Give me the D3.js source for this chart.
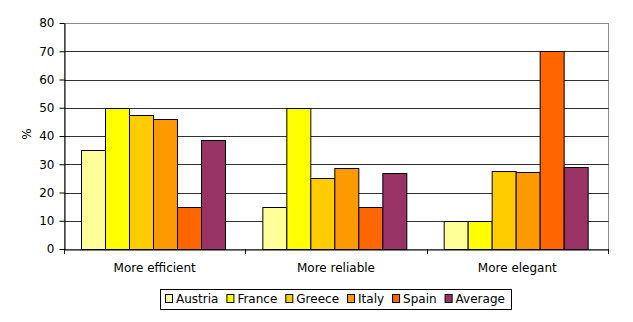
<!DOCTYPE html>
<html>
<head>
<meta charset="utf-8">
<script src="https://cdn.jsdelivr.net/npm/d3@7"></script>
<style>
  html, body { margin: 0; padding: 0; background: #fff; }
  svg { display: block; font-family: "DejaVu Sans", Verdana, sans-serif; }
</style>
</head>
<body>
<svg id="chart" width="633" height="322"></svg>
<script>
// Survey answers per category, in percent
const categories = ["More efficient", "More reliable", "More elegant"];
const seriesNames = ["Austria", "France", "Greece", "Italy", "Spain", "Average"];
const austria = [35, 15, 10];
const france  = [50, 50, 10];
const greece  = [47.5, 25, 27.5];
const italy   = [46, 28.5, 27.2];
const spain   = [15, 15, 70];
const average = [38.7, 26.8, 28.9];
const yTicks = [0, 10, 20, 30, 40, 50, 60, 70, 80];
const seriesColors = ["#FFFF99", "#FFFF00", "#FFCC00", "#FF9900", "#FF6600", "#993366"];

const seriesValues = [austria, france, greece, italy, spain, average];

const svg = d3.select("#chart");
const plot = { left: 64, right: 608, top: 23, bottom: 249 };

const x0 = d3.scaleBand().domain(categories).range([plot.left, plot.right]).padding(0);
const x1 = d3.scaleBand().domain(seriesNames).range([0, x0.bandwidth()])
  .paddingInner(0).paddingOuter(0.78).align(0.46);
const y = d3.scaleLinear().domain([0, 80]).range([plot.bottom, plot.top]);
const color = d3.scaleOrdinal().domain(seriesNames).range(seriesColors);

// plot area frame
svg.append("rect")
  .attr("x", plot.left + 0.5).attr("y", plot.top + 0.5)
  .attr("width", plot.right - plot.left).attr("height", plot.bottom - plot.top)
  .attr("fill", "none").attr("stroke", "#8c8c8c");

// horizontal gridlines
svg.append("g")
  .selectAll("line")
  .data(yTicks.filter(t => t > 0 && t < 80))
  .join("line")
  .attr("x1", plot.left).attr("x2", plot.right + 0.5)
  .attr("y1", d => Math.round(y(d)) + 0.5).attr("y2", d => Math.round(y(d)) + 0.5)
  .attr("stroke", "#333");

// bars
const groups = svg.append("g")
  .selectAll("g")
  .data(categories)
  .join("g")
  .attr("transform", d => `translate(${x0(d)},0)`);

groups.selectAll("rect")
  .data((c, ci) => seriesNames.map((s, si) => ({ s, v: seriesValues[si][ci] })))
  .join("rect")
  .attr("x", d => Math.round(x1(d.s)) + 0.5)
  .attr("y", d => Math.round(y(d.v)) + 0.5)
  .attr("width", x1.bandwidth())
  .attr("height", d => Math.round(y(0)) - Math.round(y(d.v)))
  .attr("fill", d => color(d.s))
  .attr("stroke", "#000")
  .attr("stroke-width", 1);

// y axis
const yAxis = svg.append("g")
  .attr("transform", `translate(${plot.left + 0.5},0)`)
  .call(d3.axisLeft(y).tickValues(yTicks).tickSize(5).tickPadding(5).tickSizeOuter(0));
yAxis.select(".domain").attr("stroke", "#000");
yAxis.selectAll(".tick line").attr("stroke", "#000");
yAxis.selectAll(".tick text")
  .attr("font-size", 12).attr("font-family", "DejaVu Sans, Verdana, sans-serif").attr("fill", "#000");

// x axis
const xAxis = svg.append("g")
  .attr("transform", `translate(0,${plot.bottom + 0.5})`)
  .call(d3.axisBottom(x0).tickSize(0).tickPadding(0).tickSizeOuter(0));
xAxis.select(".domain").attr("stroke", "#000");
xAxis.selectAll(".tick text").remove();

// category separators below the axis
svg.append("g")
  .selectAll("line")
  .data([plot.left, ...categories.slice(1).map(c => x0(c)), plot.right])
  .join("line")
  .attr("x1", d => Math.round(d) + 0.5).attr("x2", d => Math.round(d) + 0.5)
  .attr("y1", plot.bottom).attr("y2", plot.bottom + 5)
  .attr("stroke", "#000");

// category labels
svg.append("g")
  .selectAll("text")
  .data(categories)
  .join("text")
  .attr("x", d => x0(d) + x0.bandwidth() / 2)
  .attr("y", 272)
  .attr("text-anchor", "middle")
  .attr("font-size", 12)
  .text(d => d);

// y axis title
svg.append("text")
  .attr("transform", "translate(31,134) rotate(-90)")
  .attr("text-anchor", "middle")
  .attr("font-size", 12)
  .text("%");

// legend
const legend = svg.append("g");
const legendBox = legend.append("rect")
  .attr("fill", "#fff").attr("stroke", "#000");
let lx = 165;
let lastEnd = lx;
const items = legend.selectAll("g")
  .data(seriesNames)
  .join("g");
items.each(function (d) {
  const g = d3.select(this);
  g.append("rect")
    .attr("x", lx + 0.5).attr("y", 294.5)
    .attr("width", 7).attr("height", 8)
    .attr("fill", color(d)).attr("stroke", "#000");
  const t = g.append("text")
    .attr("x", lx + 11).attr("y", 303)
    .attr("font-size", 12)
    .text(d);
  lastEnd = lx + 11 + t.node().getComputedTextLength();
  lx = lastEnd + 8;
});
legendBox
  .attr("x", 160.5).attr("y", 289.5)
  .attr("width", Math.round(lastEnd + 6 - 160)).attr("height", 20);
</script>
</body>
</html>
